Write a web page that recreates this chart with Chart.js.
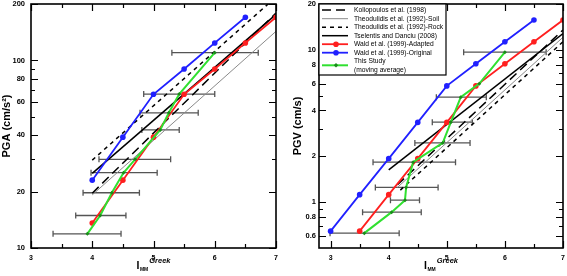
<!DOCTYPE html>
<html>
<head>
<meta charset="utf-8">
<script src="https://cdn.jsdelivr.net/npm/chart.js@4.4.1/dist/chart.umd.min.js"></script>
<style>
  html, body { margin: 0; padding: 0; background: #fff; }
  #wrap { position: relative; width: 567px; height: 276px; }
  canvas { position: absolute; top: 0; }
  #pga { left: 0; }
  #pgv { left: 290px; }
</style>
</head>
<body>
<div id="wrap">
  <canvas id="pga" width="283" height="276"></canvas>
  <canvas id="pgv" width="277" height="276"></canvas>
</div>
<script>
// ---- axis ticks ----
const iTicks = [3, 4, 5, 6, 7];
const iMinor = [3.5, 4.5, 5.5, 6.5];
const pgaTicks = [10, 20, 40, 60, 80, 100, 200];
const pgaMinor = [30, 50, 70, 90];
const pgvTicks = [0.6, 0.8, 1, 2, 4, 6, 8, 10, 20];
const pgvMinor = [0.7, 0.9, 3, 5, 7, 9];

// ---- PGA panel ----
const waldOrigPgaI = [4, 4.5, 5, 5.5, 6, 6.5];
const waldOrigPga = [23, 39, 66, 90, 124, 170];
const waldAdaptPgaI = [4, 4.5, 5, 5.5, 6, 6.5, 7];
const waldAdaptPga = [13.6, 23, 39, 66, 90, 124, 170];
const studyPgaI = [3.92, 4.13, 4.32, 4.51, 4.70, 5.11, 5.25, 5.42, 6.0];
const studyPga = [11.9, 14.9, 19.7, 25.2, 29.7, 42.6, 52.6, 66.2, 110];
const studyPgaLo = [3.36, 3.73, 3.85, 3.98, 4.11, 4.81, 4.78, 4.84, 5.30];
const studyPgaHi = [4.47, 4.55, 4.77, 5.06, 5.28, 5.42, 5.73, 6.0, 6.71];
const relPgaI = [4, 7];
const koliopoulosPga = [19.6, 179];
const theoSoilPga = [19.2, 143];
const theoRockPga = [29.4, 218];
const tselentisPga = [25, 176];

// ---- PGV panel ----
const waldOrigPgvI = [3, 3.5, 4, 4.5, 5, 5.5, 6, 6.5];
const waldOrigPgv = [0.645, 1.12, 1.93, 3.34, 5.8, 8.1, 11.3, 15.7];
const waldAdaptPgvI = [3.5, 4, 4.5, 5, 5.5, 6, 6.5, 7];
const waldAdaptPgv = [0.645, 1.12, 1.93, 3.34, 5.8, 8.1, 11.3, 15.7];
const studyPgvI = [3.58, 4.05, 4.28, 4.30, 4.42, 4.93, 5.07, 5.24, 5.56, 6.0];
const studyPgv = [0.626, 0.86, 1.03, 1.25, 1.83, 2.45, 3.35, 4.89, 6.0, 9.65];
const studyPgvLo = [2.99, 3.55, 4.03, 3.77, 3.73, 4.45, 4.75, 4.82, null, 5.29];
const studyPgvHi = [4.18, 4.56, 4.53, 4.85, 5.15, 5.40, 5.44, 5.68, null, 6.71];
const tselentisPgvI = [4, 7];
const tselentisPgv = [1.63, 12.8];
const koliopoulosPgvI = [4.15, 7];
const koliopoulosPgv = [1.3, 13.5];
const theoSoilPgvI = [4.15, 7];
const theoSoilPgv = [1.25, 12.1];
const theoRockPgvI = [4.2, 7];
const theoRockPgv = [1.2, 11.3];

const RED = '#ff1f1f', BLUE = '#2020ff', GREEN = '#30e030', GREEN_DARK = '#1a8a1a';
const FONT = '"Liberation Sans", Arial, sans-serif';
Chart.defaults.font.family = FONT;
Chart.defaults.color = '#000';

function pts(xs, ys) {
    return xs.map((x, i) => ({x: x, y: ys[i]}));
}

function makeDatasets(d) {
    return [
        {label: 'Koliopoulos et al. (1998)', data: d.kol, borderColor: '#000', borderWidth: 1.5, borderDash: [9, 5], pointRadius: 0, order: 5},
        {label: 'Theodulidis et al. (1992)-Soil', data: d.soil, borderColor: '#8a8a8a', borderWidth: 1, pointRadius: 0, order: 6},
        {label: 'Theodulidis et al. (1992)-Rock', data: d.rock, borderColor: '#000', borderWidth: 1.5, borderDash: [4, 4], pointRadius: 0, order: 4},
        {label: 'Tselentis and Danciu (2008)', data: d.tse, borderColor: '#000', borderWidth: 1.5, pointRadius: 0, order: 3},
        {label: 'Wald et al. (1999)-Adapted', data: d.adapt, borderColor: RED, backgroundColor: RED, borderWidth: 1.8, pointRadius: 2.8, pointBorderWidth: 0, order: 1},
        {label: 'Wald et al. (1999)-Original', data: d.orig, borderColor: BLUE, backgroundColor: BLUE, borderWidth: 1.8, pointRadius: 2.8, pointBorderWidth: 0, order: 2},
        {label: 'This Study (moving average)', data: d.study, borderColor: GREEN, backgroundColor: GREEN_DARK, borderWidth: 2, pointRadius: 2, pointStyle: 'rectRot', pointBorderWidth: 0, order: 0}
    ].map(ds => Object.assign({showLine: true, fill: false, tension: 0}, ds));
}

// inward ticks on all four sides plus the box
function framePlugin(yMajor, yMinor) {
    return {
        id: 'frame',
        afterDatasetsDraw(chart) {
            const {ctx, chartArea: a, scales: {x, y}} = chart;
            ctx.save();
            ctx.strokeStyle = '#000';
            ctx.lineWidth = 1.2;
            ctx.beginPath();
            const tx = (vals, len) => vals.forEach(v => {
                const p = Math.round(x.getPixelForValue(v)) + 0.5;
                ctx.moveTo(p, a.bottom); ctx.lineTo(p, a.bottom - len);
                ctx.moveTo(p, a.top); ctx.lineTo(p, a.top + len);
            });
            const ty = (vals, len) => vals.forEach(v => {
                const p = Math.round(y.getPixelForValue(v)) + 0.5;
                ctx.moveTo(a.left, p); ctx.lineTo(a.left + len, p);
                ctx.moveTo(a.right, p); ctx.lineTo(a.right - len, p);
            });
            tx(iTicks, 7); tx(iMinor, 4);
            ty(yMajor, 7); ty(yMinor, 4);
            ctx.stroke();
            ctx.lineWidth = 1.6;
            ctx.strokeRect(a.left, a.top, a.right - a.left, a.bottom - a.top);
            ctx.restore();
        }
    };
}

function errorBarPlugin(xs, ys, lo, hi) {
    return {
        id: 'errorBars',
        beforeDatasetsDraw(chart) {
            const {ctx, scales: {x, y}} = chart;
            ctx.save();
            ctx.strokeStyle = '#555';
            ctx.lineWidth = 1.3;
            ctx.beginPath();
            ys.forEach((v, i) => {
                if (lo[i] == null) return;
                const py = y.getPixelForValue(v);
                const x0 = x.getPixelForValue(lo[i]);
                const x1 = x.getPixelForValue(hi[i]);
                ctx.moveTo(x0, py); ctx.lineTo(x1, py);
                ctx.moveTo(x0, py - 3); ctx.lineTo(x0, py + 3);
                ctx.moveTo(x1, py - 3); ctx.lineTo(x1, py + 3);
            });
            ctx.stroke();
            ctx.restore();
        }
    };
}

// I_MM^Greek axis title
const xTitlePlugin = {
    id: 'xTitle',
    afterDraw(chart) {
        const {ctx, chartArea: a} = chart;
        ctx.save();
        ctx.fillStyle = '#000';
        ctx.textBaseline = 'alphabetic';
        const fI = 'bold 10.5px ' + FONT, fS = 'bold 5px ' + FONT, fG = 'italic bold 7.5px ' + FONT;
        ctx.font = fI; const wI = ctx.measureText('I').width;
        ctx.font = fS; const wS = ctx.measureText('MM').width;
        ctx.font = fG; const wG = ctx.measureText('Greek').width;
        let x0 = (a.left + a.right) / 2 - (wI + wS + 1.5 + wG) / 2;
        ctx.font = fI; ctx.fillText('I', x0, 269);
        ctx.font = fS; ctx.fillText('MM', x0 + wI + 0.5, 271);
        ctx.font = fG; ctx.fillText('Greek', x0 + wI + wS + 1.5, 263);
        ctx.restore();
    }
};

const legendPlugin = {
    id: 'boxLegend',
    afterDraw(chart) {
        const {ctx, chartArea: a} = chart;
        const bx = a.left, by = a.top, bw = 127, bh = 71;
        ctx.save();
        ctx.fillStyle = '#fff';
        ctx.fillRect(bx, by, bw, bh);
        ctx.strokeStyle = '#000';
        ctx.lineWidth = 1.2;
        ctx.strokeRect(bx, by, bw, bh);
        ctx.font = '6.7px ' + FONT;
        ctx.textBaseline = 'middle';
        const rows = [10, 18.7, 27.2, 35.7, 44.2, 52.7, 61.3];
        chart.data.datasets.forEach((ds, i) => {
            const yc = by + rows[i] - 4;
            const ly = i === 6 ? yc + 4 : yc;
            ctx.save();
            ctx.strokeStyle = ds.borderColor;
            ctx.lineWidth = ds.borderWidth;
            ctx.setLineDash(ds.borderDash || []);
            ctx.beginPath();
            ctx.moveTo(bx + 3, ly); ctx.lineTo(bx + 29, ly);
            ctx.stroke();
            ctx.restore();
            if (ds.pointRadius > 0) {
                ctx.fillStyle = ds.backgroundColor;
                ctx.beginPath();
                if (ds.pointStyle === 'rectRot') {
                    const cx = bx + 17, r = 2.2;
                    ctx.moveTo(cx, ly - r); ctx.lineTo(cx + r, ly); ctx.lineTo(cx, ly + r); ctx.lineTo(cx - r, ly);
                } else {
                    ctx.arc(bx + 17, ly, ds.pointRadius, 0, Math.PI * 2);
                }
                ctx.fill();
            }
            ctx.fillStyle = '#000';
            const parts = ds.label.split(' (moving');
            ctx.fillText(parts[0], bx + 35, yc);
            if (parts.length > 1) ctx.fillText('(moving' + parts[1], bx + 35, yc + 8.5);
        });
        ctx.restore();
    }
};

function xScale(min) {
    return {
        type: 'linear', min: min, max: 7,
        grid: {display: false, drawTicks: false},
        border: {display: false},
        afterBuildTicks: s => { s.ticks = iTicks.map(v => ({value: v})); },
        afterFit: s => { s.height = 28; s.paddingLeft = 0; s.paddingRight = 0; },
        ticks: {font: {size: 7, weight: 'bold'}, padding: 6, maxRotation: 0, callback: v => String(v)}
    };
}

function yScale(min, max, ticks, title, width, pad, titlePad) {
    return {
        type: 'logarithmic', min: min, max: max,
        grid: {display: false, drawTicks: false},
        border: {display: false},
        afterBuildTicks: s => { s.ticks = ticks.map(v => ({value: v})); },
        afterFit: s => { s.width = width; s.paddingTop = 0; s.paddingBottom = 0; },
        ticks: {font: {size: 7.5, weight: 'bold'}, padding: pad, callback: v => String(v)},
        title: {display: true, text: title, font: {size: 11, weight: 'bold'}, padding: {top: titlePad, bottom: 0}}
    };
}

new Chart(document.getElementById('pga'), {
    type: 'scatter',
    data: {
        datasets: makeDatasets({
            kol: pts(relPgaI, koliopoulosPga),
            soil: pts(relPgaI, theoSoilPga),
            rock: pts(relPgaI, theoRockPga),
            tse: pts(relPgaI, tselentisPga),
            adapt: pts(waldAdaptPgaI, waldAdaptPga),
            orig: pts(waldOrigPgaI, waldOrigPga),
            study: pts(studyPgaI, studyPga)
        })
    },
    options: {
        responsive: false,
        animation: false,
        layout: {padding: {top: 4, right: 7, left: 0, bottom: 0}},
        plugins: {legend: {display: false}, tooltip: {enabled: false}},
        scales: {x: xScale(3), y: yScale(10, 200, pgaTicks, 'PGA (cm/s²)', 31, 6, 0)}
    },
    plugins: [errorBarPlugin(studyPgaI, studyPga, studyPgaLo, studyPgaHi), framePlugin(pgaTicks, pgaMinor), xTitlePlugin]
});

new Chart(document.getElementById('pgv'), {
    type: 'scatter',
    data: {
        datasets: makeDatasets({
            kol: pts(koliopoulosPgvI, koliopoulosPgv),
            soil: pts(theoSoilPgvI, theoSoilPgv),
            rock: pts(theoRockPgvI, theoRockPgv),
            tse: pts(tselentisPgvI, tselentisPgv),
            adapt: pts(waldAdaptPgvI, waldAdaptPgv),
            orig: pts(waldOrigPgvI, waldOrigPgv),
            study: pts(studyPgvI, studyPgv)
        })
    },
    options: {
        responsive: false,
        animation: false,
        layout: {padding: {top: 4, right: 2, left: 0, bottom: 0}},
        plugins: {legend: {display: false}, tooltip: {enabled: false}},
        scales: {x: xScale(2.8), y: yScale(0.5, 20, pgvTicks, 'PGV (cm/s)', 29, 3, 1.5)}
    },
    plugins: [errorBarPlugin(studyPgvI, studyPgv, studyPgvLo, studyPgvHi), framePlugin(pgvTicks, pgvMinor), xTitlePlugin, legendPlugin]
});
</script>
</body>
</html>
